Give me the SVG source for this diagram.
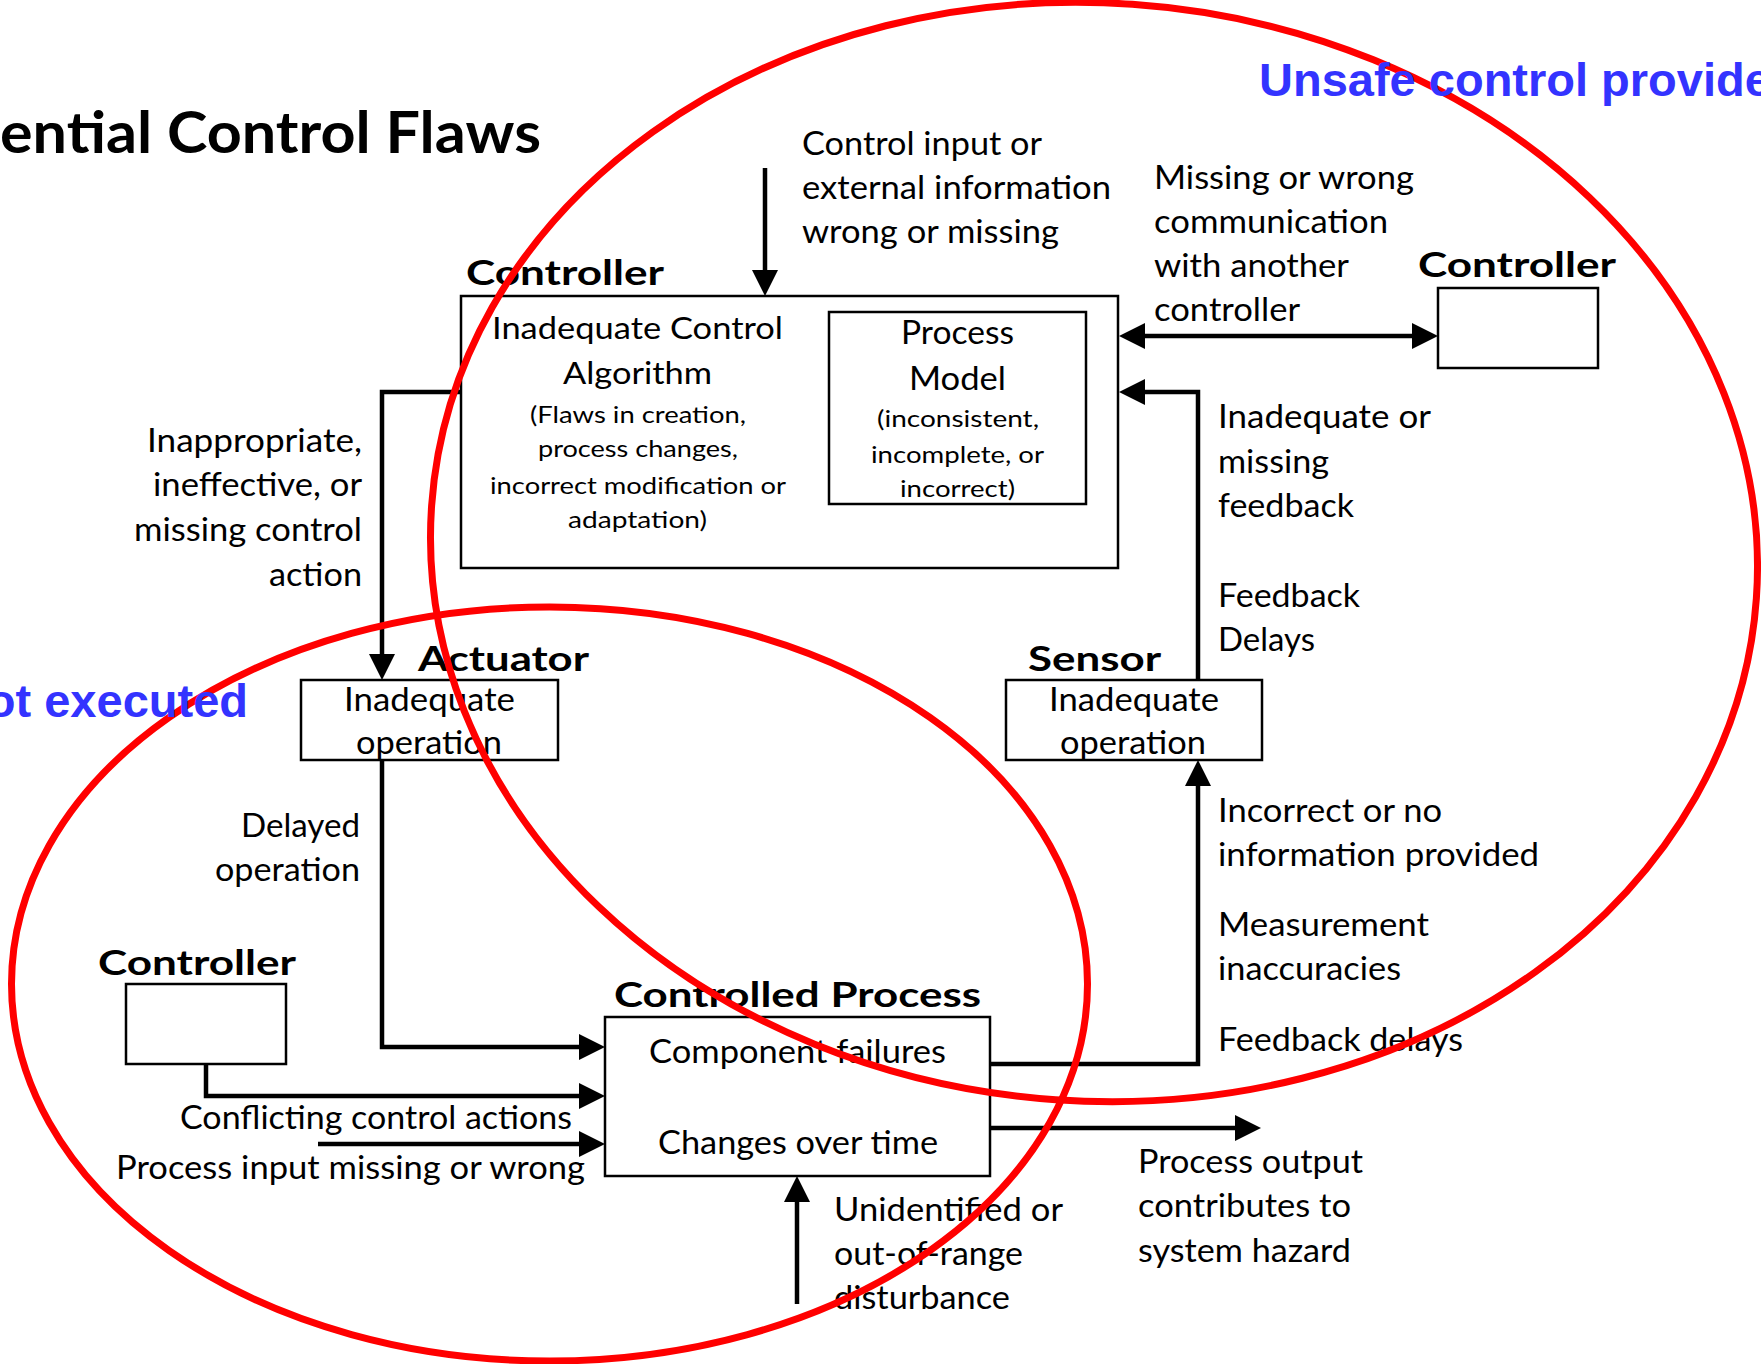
<svg xmlns="http://www.w3.org/2000/svg" width="1761" height="1364" viewBox="0 0 1761 1364">
  <style>
    text { font-family: "Lato", "Liberation Sans", sans-serif; fill: #000; }
    .t { font-size: 33px; }
    .s { font-size: 24px; }
    .lbl { font-size: 35px; font-weight: bold; }
    .title { font-size: 58px; font-weight: bold; }
    .blue { font-family: "Liberation Sans", Arial, sans-serif; font-size: 47px; font-weight: bold; fill: #3333ff; }
    .box { fill: #fff; stroke: #000; stroke-width: 2.5; }
    .wire { fill: none; stroke: #000; stroke-width: 4.5; marker-end: url(#ah); }
    .zone { fill: none; stroke: #ff0000; stroke-width: 7; }
  </style>
  <defs>
    <marker id="ah" viewBox="0 0 26 26" refX="1" refY="13" markerWidth="26" markerHeight="26" markerUnits="userSpaceOnUse" orient="auto-start-reverse">
      <path d="M0,0 L26,13 L0,26 z" fill="#000"/>
    </marker>
  </defs>
  <rect width="1761" height="1364" fill="#fff"/>

  <text class="title" x="0" y="153" textLength="541" lengthAdjust="spacingAndGlyphs">ential Control Flaws</text>

  <!-- main controller with its process model -->
  <g id="controller-main">
    <text class="lbl" x="466" y="285" textLength="198" lengthAdjust="spacingAndGlyphs">Controller</text>
    <rect class="box" x="461" y="296" width="657" height="272"/>
    <text class="t" x="492" y="339" textLength="291" lengthAdjust="spacingAndGlyphs" style="font-size:31px">Inadequate Control</text>
    <text class="t" x="563" y="384" textLength="149" lengthAdjust="spacingAndGlyphs" style="font-size:31px">Algorithm</text>
    <text class="s" x="530" y="423" textLength="216" lengthAdjust="spacingAndGlyphs">(Flaws in creation,</text>
    <text class="s" x="538" y="457" textLength="200" lengthAdjust="spacingAndGlyphs">process changes,</text>
    <text class="s" x="490" y="494" textLength="296" lengthAdjust="spacingAndGlyphs">incorrect modification or</text>
    <text class="s" x="568" y="528" textLength="139" lengthAdjust="spacingAndGlyphs">adaptation)</text>
  </g>
  <g id="process-model">
    <rect class="box" x="829" y="312" width="257" height="192"/>
    <text class="t" x="901" y="344" textLength="113" lengthAdjust="spacingAndGlyphs">Process</text>
    <text class="t" x="909" y="390" textLength="97" lengthAdjust="spacingAndGlyphs">Model</text>
    <text class="s" x="877" y="427" textLength="162" lengthAdjust="spacingAndGlyphs">(inconsistent,</text>
    <text class="s" x="871" y="463" textLength="173" lengthAdjust="spacingAndGlyphs">incomplete, or</text>
    <text class="s" x="900" y="497" textLength="115" lengthAdjust="spacingAndGlyphs">incorrect)</text>
  </g>

  <g id="controller-peer">
    <text class="lbl" x="1418" y="277" textLength="198" lengthAdjust="spacingAndGlyphs">Controller</text>
    <rect class="box" x="1438" y="288" width="160" height="80"/>
  </g>

  <g id="actuator">
    <text class="lbl" x="418" y="671" textLength="171" lengthAdjust="spacingAndGlyphs">Actuator</text>
    <rect class="box" x="301" y="680" width="257" height="80"/>
    <text class="t" x="344" y="711" textLength="171" lengthAdjust="spacingAndGlyphs">Inadequate</text>
    <text class="t" x="356" y="754" textLength="146" lengthAdjust="spacingAndGlyphs">operation</text>
  </g>

  <g id="sensor">
    <text class="lbl" x="1028" y="671" textLength="133" lengthAdjust="spacingAndGlyphs">Sensor</text>
    <rect class="box" x="1006" y="680" width="256" height="80"/>
    <text class="t" x="1049" y="711" textLength="170" lengthAdjust="spacingAndGlyphs">Inadequate</text>
    <text class="t" x="1060" y="754" textLength="146" lengthAdjust="spacingAndGlyphs">operation</text>
  </g>

  <g id="controller-other">
    <text class="lbl" x="98" y="975" textLength="198" lengthAdjust="spacingAndGlyphs">Controller</text>
    <rect class="box" x="126" y="984" width="160" height="80"/>
  </g>

  <g id="controlled-process">
    <text class="lbl" x="614" y="1007" textLength="367" lengthAdjust="spacingAndGlyphs">Controlled Process</text>
    <rect class="box" x="605" y="1017" width="385" height="159"/>
    <text class="t" x="649" y="1063" textLength="297" lengthAdjust="spacingAndGlyphs">Component failures</text>
    <text class="t" x="658" y="1154" textLength="280" lengthAdjust="spacingAndGlyphs">Changes over time</text>
  </g>

  <!-- connectors -->
  <g id="connectors">
    <path class="wire" d="M765,168 V271"/>
    <path class="wire" d="M461,392 H382 V655"/>
    <path class="wire" d="M382,760 V1047 H580"/>
    <path class="wire" d="M990,1064 H1198 V785"/>
    <path class="wire" d="M1198,680 V392 H1144"/>
    <path class="wire" d="M1144,336 H1413" style="marker-start:url(#ah)"/>
    <path class="wire" d="M206,1064 V1096 H580"/>
    <path class="wire" d="M318,1144 H580"/>
    <path class="wire" d="M797,1304 V1201"/>
    <path class="wire" d="M990,1128 H1236"/>
  </g>

  <!-- connector labels -->
  <g id="labels">
    <text class="t" x="802" y="155" textLength="240" lengthAdjust="spacingAndGlyphs">Control input or</text>
    <text class="t" x="802" y="199" textLength="309" lengthAdjust="spacingAndGlyphs">external information</text>
    <text class="t" x="802" y="243" textLength="257" lengthAdjust="spacingAndGlyphs">wrong or missing</text>

    <text class="t" x="1154" y="189" textLength="260" lengthAdjust="spacingAndGlyphs">Missing or wrong</text>
    <text class="t" x="1154" y="233" textLength="234" lengthAdjust="spacingAndGlyphs">communication</text>
    <text class="t" x="1154" y="277" textLength="195" lengthAdjust="spacingAndGlyphs">with another</text>
    <text class="t" x="1154" y="321" textLength="146" lengthAdjust="spacingAndGlyphs">controller</text>

    <text class="t" x="1218" y="428" textLength="213" lengthAdjust="spacingAndGlyphs">Inadequate or</text>
    <text class="t" x="1218" y="473" textLength="111" lengthAdjust="spacingAndGlyphs">missing</text>
    <text class="t" x="1218" y="517" textLength="136" lengthAdjust="spacingAndGlyphs">feedback</text>
    <text class="t" x="1218" y="607" textLength="142" lengthAdjust="spacingAndGlyphs">Feedback</text>
    <text class="t" x="1218" y="651" textLength="97" lengthAdjust="spacingAndGlyphs">Delays</text>

    <text class="t" x="147" y="452" textLength="215" lengthAdjust="spacingAndGlyphs">Inappropriate,</text>
    <text class="t" x="153" y="496" textLength="209" lengthAdjust="spacingAndGlyphs">ineffective, or</text>
    <text class="t" x="134" y="541" textLength="228" lengthAdjust="spacingAndGlyphs">missing control</text>
    <text class="t" x="269" y="586" textLength="93" lengthAdjust="spacingAndGlyphs">action</text>

    <text class="t" x="241" y="837" textLength="119" lengthAdjust="spacingAndGlyphs">Delayed</text>
    <text class="t" x="215" y="881" textLength="145" lengthAdjust="spacingAndGlyphs">operation</text>

    <text class="t" x="1218" y="822" textLength="224" lengthAdjust="spacingAndGlyphs">Incorrect or no</text>
    <text class="t" x="1218" y="866" textLength="321" lengthAdjust="spacingAndGlyphs">information provided</text>
    <text class="t" x="1218" y="936" textLength="211" lengthAdjust="spacingAndGlyphs">Measurement</text>
    <text class="t" x="1218" y="980" textLength="183" lengthAdjust="spacingAndGlyphs">inaccuracies</text>
    <text class="t" x="1218" y="1051" textLength="245" lengthAdjust="spacingAndGlyphs">Feedback delays</text>

    <text class="t" x="180" y="1129" textLength="392" lengthAdjust="spacingAndGlyphs">Conflicting control actions</text>
    <text class="t" x="116" y="1179" textLength="469" lengthAdjust="spacingAndGlyphs">Process input missing or wrong</text>

    <text class="t" x="834" y="1221" textLength="229" lengthAdjust="spacingAndGlyphs">Unidentified or</text>
    <text class="t" x="834" y="1265" textLength="189" lengthAdjust="spacingAndGlyphs">out-of-range</text>
    <text class="t" x="834" y="1309" textLength="176" lengthAdjust="spacingAndGlyphs">disturbance</text>

    <text class="t" x="1138" y="1173" textLength="225" lengthAdjust="spacingAndGlyphs">Process output</text>
    <text class="t" x="1138" y="1217" textLength="213" lengthAdjust="spacingAndGlyphs">contributes to</text>
    <text class="t" x="1138" y="1262" textLength="213" lengthAdjust="spacingAndGlyphs">system hazard</text>
  </g>

  <!-- highlighted zones -->
  <g id="zones">
    <ellipse class="zone" cx="1094" cy="552" rx="664" ry="549" transform="rotate(4 1094 552)"/>
    <ellipse class="zone" cx="549.5" cy="984" rx="538" ry="377"/>
  </g>

  <g id="zone-captions">
    <text class="blue" x="1259" y="96">Unsafe control provide</text>
    <text class="blue" x="248" y="717" text-anchor="end">ot executed</text>
  </g>
</svg>
